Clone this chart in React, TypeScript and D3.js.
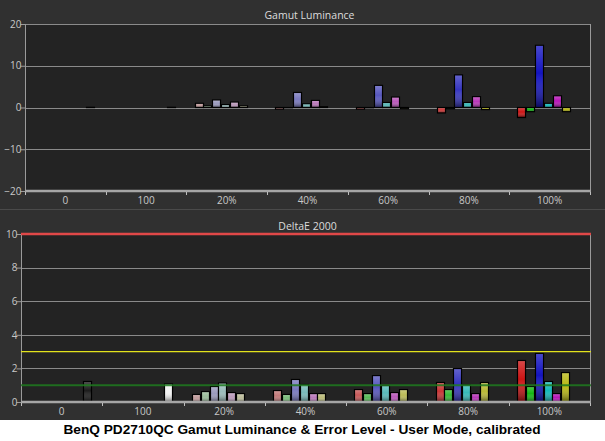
import React, { useEffect, useRef } from 'react';
import * as d3 from 'd3';

// categories along the x axis (grayscale steps, then saturation levels)
const categories = ["0", "100", "20%", "40%", "60%", "80%", "100%"];
const satLevels = [null, null, 0.2, 0.4, 0.6, 0.8, 1.0];
const seriesKeys = ["red", "green", "blue", "cyan", "magenta", "yellow", "gray"];
const pureColors = ["#cc1414", "#14b814", "#1414c0", "#14b8b8", "#b814b8", "#b8b814"];
const grayColors = ["#1c1c1c", "#f2f2f2"];

// Gamut Luminance (error, %)
const lumRed = [null, null, 1.0, -0.4, -0.4, -1.3, -2.4];
const lumGreen = [null, null, 0.4, 0.0, 0.0, -0.3, -1.0];
const lumBlue = [null, null, 1.8, 3.6, 5.3, 7.8, 14.9];
const lumCyan = [null, null, 0.7, 0.9, 1.2, 1.2, 1.0];
const lumMagenta = [null, null, 1.3, 1.7, 2.5, 2.6, 2.8];
const lumYellow = [null, null, 0.4, 0.2, -0.3, -0.5, -1.0];
const lumGray = [0.05, 0.05, null, null, null, null, null];

// DeltaE 2000
const deRed = [null, null, 0.45, 0.68, 0.74, 1.16, 2.47];
const deGreen = [null, null, 0.62, 0.45, 0.5, 0.74, 0.92];
const deBlue = [null, null, 0.92, 1.34, 1.57, 1.99, 2.89];
const deCyan = [null, null, 1.13, 1.04, 0.98, 1.01, 1.22];
const deMagenta = [null, null, 0.56, 0.5, 0.56, 0.5, 0.5];
const deYellow = [null, null, 0.5, 0.5, 0.74, 1.16, 1.75];
const deGray = [1.22, 1.07, null, null, null, null, null];

const lumTicks = [-20, -10, 0, 10, 20];
const deTicks = [0, 2, 4, 6, 8, 10];

const W = 605;
const H = 441;
const TICK_COLOR = "#c8c8c8";
const FONT = "'Open Sans', 'DejaVu Sans', sans-serif";

type Row = { cat: string; key: string; value: number; color: string };

function buildRows(series: (number | null)[][]): Row[] {
  const rows: Row[] = [];
  categories.forEach((cat, i) => {
    series.forEach((arr, s) => {
      const v = arr[i];
      if (v == null) return;
      let color: string;
      if (s === 6) color = grayColors[i];
      else color = d3.interpolateRgb("#bcbcbc", pureColors[s])(satLevels[i] as number);
      rows.push({ cat, key: seriesKeys[s], value: v, color });
    });
  });
  return rows;
}

interface PanelOpts {
  title: string;
  titleY: number;
  left: number;
  right: number;
  top: number;
  bottom: number;
  domain: [number, number];
  ticks: number[];
  grid: number[];
  rows: Row[];
}

function drawPanel(svg: d3.Selection<SVGSVGElement, unknown, null, undefined>, o: PanelOpts) {
  const g = svg.append("g");

  const x = d3.scaleBand<string>().domain(categories).range([o.left, o.right]).padding(0);
  const xs = d3.scaleBand<string>()
    .domain(seriesKeys.slice(0, 6).concat(["gray"]))
    .range([0, x.bandwidth()])
    .paddingInner(0.1)
    .paddingOuter(1.12)
    .align(0.41);
  const y = d3.scaleLinear().domain(o.domain).range([o.bottom, o.top]);

  g.append("text")
    .attr("x", (o.left + o.right) / 2 + 2)
    .attr("y", o.titleY)
    .attr("text-anchor", "middle")
    .style("font-family", FONT)
    .style("font-size", "10.5px")
    .style("fill", "#dcdcdc")
    .text(o.title);

  g.append("rect")
    .attr("x", o.left)
    .attr("y", o.top)
    .attr("width", o.right - o.left)
    .attr("height", o.bottom - o.top)
    .attr("fill", "#232323");

  // grid
  g.selectAll(".grid")
    .data(o.grid)
    .join("line")
    .attr("x1", o.left)
    .attr("x2", o.right)
    .attr("y1", (d) => Math.round(y(d)) + 0.5)
    .attr("y2", (d) => Math.round(y(d)) + 0.5)
    .attr("stroke", "#8a8a8a")
    .attr("stroke-width", 1);

  // frame
  g.append("line")
    .attr("x1", o.right + 0.5).attr("x2", o.right + 0.5)
    .attr("y1", o.top).attr("y2", o.bottom)
    .attr("stroke", "#9a9a9a");
  g.append("line")
    .attr("x1", o.left + 0.5).attr("x2", o.left + 0.5)
    .attr("y1", o.top).attr("y2", o.bottom)
    .attr("stroke", "#9a9a9a");

  // y axis
  const yAxis = d3.axisLeft(y).tickValues(o.ticks).tickSize(5).tickSizeOuter(0).tickFormat(d3.format("d"));
  const ya = g.append("g").attr("transform", `translate(${o.left + 0.5},0)`).call(yAxis);
  ya.select(".domain").remove();
  ya.selectAll("line").attr("stroke", "#9a9a9a");
  ya.selectAll("text")
    .attr("x", -4)
    .style("font-family", FONT)
    .style("font-size", "10px")
    .style("fill", TICK_COLOR);

  // bars
  const bars = g.append("g");
  bars.selectAll("rect.bar")
    .data(o.rows)
    .join("rect")
    .attr("class", "bar")
    .attr("x", (d) => Math.round((x(d.cat) as number) + (xs(d.key) as number)) + 0.5)
    .attr("width", Math.round(xs.bandwidth()))
    .attr("y", (d) => Math.min(y(0), y(d.value)))
    .attr("height", (d) => Math.max(0.3, Math.abs(y(d.value) - y(0))))
    .attr("fill", (d) => d.color)
    .attr("stroke", "#000")
    .attr("stroke-width", 1.2);
  bars.selectAll("rect.shade")
    .data(o.rows)
    .join("rect")
    .attr("class", "shade")
    .attr("x", (d) => Math.round((x(d.cat) as number) + (xs(d.key) as number)) + 1)
    .attr("width", Math.round(xs.bandwidth()) - 1)
    .attr("y", (d) => Math.min(y(0), y(d.value)) + 0.5)
    .attr("height", (d) => Math.max(0, Math.abs(y(d.value) - y(0)) - 1))
    .attr("fill", "url(#shade)");

  // x axis
  g.append("line")
    .attr("x1", o.left).attr("x2", o.right + 1)
    .attr("y1", o.bottom).attr("y2", o.bottom)
    .attr("stroke", "#a6a6a6")
    .attr("stroke-width", 2.5);
  const bounds = categories.map((c) => x(c) as number).concat([o.right]);
  g.selectAll(".xtick")
    .data(bounds)
    .join("line")
    .attr("x1", (d) => Math.round(d) + 0.5)
    .attr("x2", (d) => Math.round(d) + 0.5)
    .attr("y1", o.bottom + 1)
    .attr("y2", o.bottom + 4)
    .attr("stroke", "#bdbdbd");
  g.selectAll(".xlabel")
    .data(categories)
    .join("text")
    .attr("x", (d) => (x(d) as number) + x.bandwidth() / 2)
    .attr("y", o.bottom + 12.5)
    .attr("text-anchor", "middle")
    .style("font-family", FONT)
    .style("font-size", "10px")
    .style("fill", TICK_COLOR)
    .text((d) => d);

  return { g, x, y };
}

const Chart: React.FC = () => {
  const ref = useRef<SVGSVGElement>(null);

  useEffect(() => {
    if (!ref.current) return;
    const svg = d3.select(ref.current);
    svg.selectAll("*").remove();

    const defs = svg.append("defs");
    const grad = defs.append("linearGradient").attr("id", "shade").attr("x1", 0).attr("y1", 0).attr("x2", 0).attr("y2", 1);
    grad.append("stop").attr("offset", "0%").attr("stop-color", "#fff").attr("stop-opacity", 0.22);
    grad.append("stop").attr("offset", "45%").attr("stop-color", "#fff").attr("stop-opacity", 0);
    grad.append("stop").attr("offset", "100%").attr("stop-color", "#000").attr("stop-opacity", 0.5);

    svg.append("rect").attr("width", W).attr("height", H).attr("fill", "#303030");
    svg.append("line")
      .attr("x1", 0).attr("x2", W)
      .attr("y1", 209.5).attr("y2", 209.5)
      .attr("stroke", "#4a4a4a");

    const lumRows = buildRows([lumRed, lumGreen, lumBlue, lumCyan, lumMagenta, lumYellow, lumGray]);
    drawPanel(svg, {
      title: "Gamut Luminance",
      titleY: 19,
      left: 25,
      right: 590,
      top: 24,
      bottom: 191,
      domain: [-20, 20],
      ticks: lumTicks,
      grid: [-10, 0, 10, 20],
      rows: lumRows,
    });

    const deRows = buildRows([deRed, deGreen, deBlue, deCyan, deMagenta, deYellow, deGray]);
    const p = drawPanel(svg, {
      title: "DeltaE 2000",
      titleY: 229.5,
      left: 21,
      right: 590,
      top: 234,
      bottom: 402,
      domain: [0, 10],
      ticks: deTicks,
      grid: [2, 4, 6, 8],
      rows: deRows,
    });

    // threshold lines
    const thresholds = [
      { v: 10, color: "#e04848", w: 2.5, op: 1 },
      { v: 3, color: "#e2e21c", w: 1.2, op: 1 },
      { v: 1, color: "#1f7a1f", w: 2, op: 0.85 },
    ];
    p.g.selectAll(".thr")
      .data(thresholds)
      .join("line")
      .attr("x1", 21)
      .attr("x2", 591)
      .attr("y1", (d) => p.y(d.v))
      .attr("y2", (d) => p.y(d.v))
      .attr("stroke", (d) => d.color)
      .attr("stroke-width", (d) => d.w)
      .attr("opacity", (d) => d.op);

    // caption
    svg.append("rect").attr("x", 0).attr("y", 420).attr("width", W).attr("height", H - 420).attr("fill", "#ffffff");
    svg.append("text")
      .attr("x", 302)
      .attr("y", 434)
      .attr("text-anchor", "middle")
      .attr("textLength", 477)
      .attr("lengthAdjust", "spacingAndGlyphs")
      .style("font-family", "'Liberation Sans', Arial, sans-serif")
      .style("font-weight", "bold")
      .style("font-size", "13px")
      .style("fill", "#000")
      .text("BenQ PD2710QC Gamut Luminance & Error Level - User Mode, calibrated");
  }, []);

  return <svg ref={ref} width={W} height={H} style={{ position: "absolute", left: 0, top: 0, display: "block" }} />;
};

export default function App() {
  return <Chart />;
}
